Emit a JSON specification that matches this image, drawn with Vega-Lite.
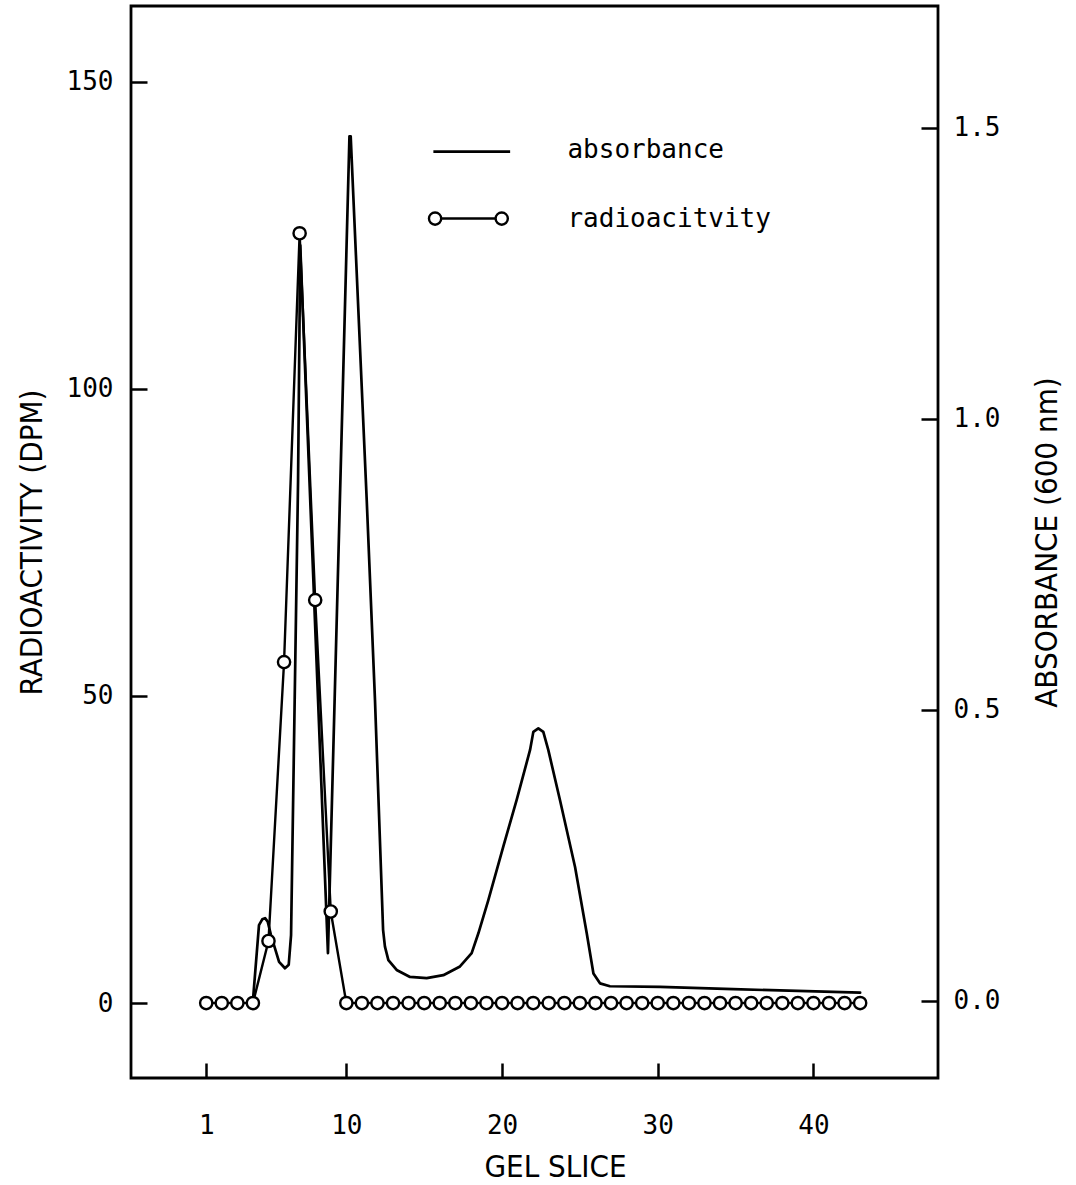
{
  "$schema": "https://vega.github.io/schema/vega-lite/v6.json",
  "width": 807,
  "height": 1072,
  "autosize": "none",
  "padding": {"left": 131, "top": 6, "right": 138, "bottom": 107},
  "background": "white",
  "config": {
    "view": {"stroke": "black", "strokeWidth": 2.8},
    "axis": {
      "grid": false,
      "domain": false,
      "tickColor": "black",
      "tickWidth": 2.5,
      "labelColor": "black",
      "titleColor": "black",
      "labelFont": "DejaVu Sans Mono",
      "labelFontSize": 26,
      "titleFont": "DejaVu Sans Condensed",
      "titleFontSize": 31,
      "titleFontWeight": "normal"
    }
  },
  "datasets": {
    "absorb": [
      {"slice": 4.0, "absorbance": 0.0},
      {"slice": 4.39, "absorbance": 0.130},
      {"slice": 4.6, "absorbance": 0.140},
      {"slice": 4.78, "absorbance": 0.142},
      {"slice": 4.95, "absorbance": 0.136},
      {"slice": 5.16, "absorbance": 0.113},
      {"slice": 5.68, "absorbance": 0.067},
      {"slice": 6.06, "absorbance": 0.056},
      {"slice": 6.3, "absorbance": 0.062},
      {"slice": 6.45, "absorbance": 0.113},
      {"slice": 6.9, "absorbance": 0.894},
      {"slice": 7.04, "absorbance": 1.298},
      {"slice": 8.82, "absorbance": 0.082},
      {"slice": 10.2, "absorbance": 1.485},
      {"slice": 10.28, "absorbance": 1.485},
      {"slice": 11.31, "absorbance": 0.860},
      {"slice": 11.84, "absorbance": 0.517},
      {"slice": 12.36, "absorbance": 0.122},
      {"slice": 12.48, "absorbance": 0.093},
      {"slice": 12.7, "absorbance": 0.070},
      {"slice": 13.23, "absorbance": 0.053},
      {"slice": 14.09, "absorbance": 0.041},
      {"slice": 15.16, "absorbance": 0.039},
      {"slice": 16.23, "absorbance": 0.044},
      {"slice": 17.3, "absorbance": 0.059},
      {"slice": 18.05, "absorbance": 0.082},
      {"slice": 18.48, "absorbance": 0.116},
      {"slice": 19.12, "absorbance": 0.173},
      {"slice": 20.08, "absorbance": 0.265},
      {"slice": 20.94, "absorbance": 0.345},
      {"slice": 21.8, "absorbance": 0.431},
      {"slice": 22.01, "absorbance": 0.462},
      {"slice": 22.33, "absorbance": 0.468},
      {"slice": 22.65, "absorbance": 0.462},
      {"slice": 22.97, "absorbance": 0.431},
      {"slice": 23.72, "absorbance": 0.345},
      {"slice": 24.69, "absorbance": 0.230},
      {"slice": 25.44, "absorbance": 0.116},
      {"slice": 25.87, "absorbance": 0.047},
      {"slice": 26.29, "absorbance": 0.030},
      {"slice": 26.93, "absorbance": 0.025},
      {"slice": 30.15, "absorbance": 0.024},
      {"slice": 34.84, "absorbance": 0.020},
      {"slice": 43.0, "absorbance": 0.014}
    ],
    "radio": [
      {"slice": 1, "dpm": 0}, {"slice": 2, "dpm": 0}, {"slice": 3, "dpm": 0}, {"slice": 4, "dpm": 0},
      {"slice": 5, "dpm": 10.1}, {"slice": 6, "dpm": 55.5}, {"slice": 7, "dpm": 125.3}, {"slice": 8, "dpm": 65.6},
      {"slice": 9, "dpm": 14.9}, {"slice": 10, "dpm": 0}, {"slice": 11, "dpm": 0}, {"slice": 12, "dpm": 0},
      {"slice": 13, "dpm": 0}, {"slice": 14, "dpm": 0}, {"slice": 15, "dpm": 0}, {"slice": 16, "dpm": 0},
      {"slice": 17, "dpm": 0}, {"slice": 18, "dpm": 0}, {"slice": 19, "dpm": 0}, {"slice": 20, "dpm": 0},
      {"slice": 21, "dpm": 0}, {"slice": 22, "dpm": 0}, {"slice": 23, "dpm": 0}, {"slice": 24, "dpm": 0},
      {"slice": 25, "dpm": 0}, {"slice": 26, "dpm": 0}, {"slice": 27, "dpm": 0}, {"slice": 28, "dpm": 0},
      {"slice": 29, "dpm": 0}, {"slice": 30, "dpm": 0}, {"slice": 31, "dpm": 0}, {"slice": 32, "dpm": 0},
      {"slice": 33, "dpm": 0}, {"slice": 34, "dpm": 0}, {"slice": 35, "dpm": 0}, {"slice": 36, "dpm": 0},
      {"slice": 37, "dpm": 0}, {"slice": 38, "dpm": 0}, {"slice": 39, "dpm": 0}, {"slice": 40, "dpm": 0},
      {"slice": 41, "dpm": 0}, {"slice": 42, "dpm": 0}, {"slice": 43, "dpm": 0}
    ],
    "legAbs": [
      {"slice": 15.59, "dpm": 138.6},
      {"slice": 20.52, "dpm": 138.6}
    ],
    "legRad": [
      {"slice": 15.70, "dpm": 127.7},
      {"slice": 19.98, "dpm": 127.7}
    ],
    "legText": [
      {"slice": 24.2, "dpm": 137.5, "label": "absorbance"},
      {"slice": 24.2, "dpm": 126.4, "label": "radioacitvity"}
    ]
  },
  "layer": [
    {
      "data": {"name": "absorb"},
      "mark": {"type": "line", "color": "black", "strokeWidth": 2.7, "strokeJoin": "round", "strokeCap": "round"},
      "encoding": {
        "x": {
          "field": "slice", "type": "quantitative",
          "scale": {"domain": [-3.83, 48.0], "nice": false, "zero": false},
          "axis": {"orient": "bottom", "values": [1, 10, 20, 30, 40], "tickSize": -15, "labelPadding": 49, "title": "GEL SLICE", "titlePadding": 14, "titleX": 424}
        },
        "y": {
          "field": "absorbance", "type": "quantitative",
          "scale": {"domain": [-0.1326, 1.709], "nice": false, "zero": false},
          "axis": {"orient": "right", "values": [0, 0.5, 1.0, 1.5], "format": ".1f", "tickSize": -17, "labelPadding": 32, "title": "ABSORBANCE (600 nm)", "titleAngle": 270, "titleBaseline": "top", "titlePadding": 33}
        }
      }
    },
    {
      "layer": [
        {
          "data": {"name": "radio"},
          "mark": {"type": "line", "color": "black", "strokeWidth": 2.4},
          "encoding": {
            "x": {"field": "slice", "type": "quantitative"},
            "y": {
              "field": "dpm", "type": "quantitative",
              "scale": {"domain": [-12.2, 162.3], "nice": false, "zero": false},
              "axis": {"orient": "left", "values": [0, 50, 100, 150], "tickSize": -16, "labelPadding": 34, "title": "RADIOACTIVITY (DPM)", "titlePadding": 18}
            }
          }
        },
        {
          "data": {"name": "radio"},
          "mark": {"type": "point", "shape": "circle", "filled": true, "fill": "white", "stroke": "black", "strokeWidth": 2.4, "size": 150, "opacity": 1},
          "encoding": {
            "x": {"field": "slice", "type": "quantitative"},
            "y": {"field": "dpm", "type": "quantitative"}
          }
        },
        {
          "data": {"name": "legAbs"},
          "mark": {"type": "line", "color": "black", "strokeWidth": 2.7},
          "encoding": {
            "x": {"field": "slice", "type": "quantitative"},
            "y": {"field": "dpm", "type": "quantitative"}
          }
        },
        {
          "data": {"name": "legRad"},
          "mark": {"type": "line", "color": "black", "strokeWidth": 2.4},
          "encoding": {
            "x": {"field": "slice", "type": "quantitative"},
            "y": {"field": "dpm", "type": "quantitative"}
          }
        },
        {
          "data": {"name": "legRad"},
          "mark": {"type": "point", "shape": "circle", "filled": true, "fill": "white", "stroke": "black", "strokeWidth": 2.4, "size": 150, "opacity": 1},
          "encoding": {
            "x": {"field": "slice", "type": "quantitative"},
            "y": {"field": "dpm", "type": "quantitative"}
          }
        },
        {
          "data": {"name": "legText"},
          "mark": {"type": "text", "align": "left", "baseline": "alphabetic", "font": "DejaVu Sans Mono", "fontSize": 26, "color": "black"},
          "encoding": {
            "x": {"field": "slice", "type": "quantitative"},
            "y": {"field": "dpm", "type": "quantitative"},
            "text": {"field": "label"}
          }
        }
      ]
    }
  ],
  "resolve": {"scale": {"y": "independent"}, "axis": {"y": "independent"}}
}
